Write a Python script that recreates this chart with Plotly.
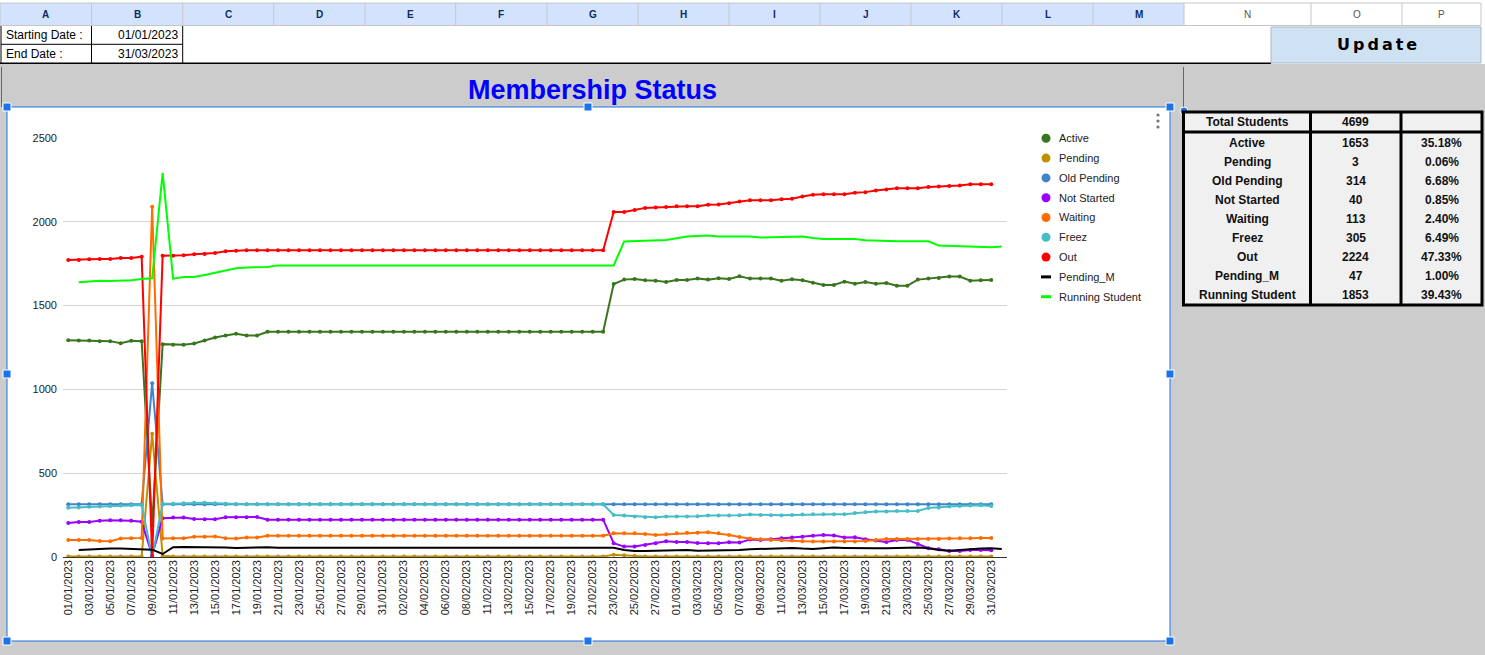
import plotly.graph_objects as go

W, H = 1485, 655

# ---------------- data ----------------
dates = [
    "01/01/2023", "02/01/2023", "03/01/2023", "04/01/2023", "05/01/2023", "06/01/2023", "07/01/2023", "08/01/2023",
    "09/01/2023", "10/01/2023", "11/01/2023", "12/01/2023", "13/01/2023", "14/01/2023", "15/01/2023", "16/01/2023",
    "17/01/2023", "18/01/2023", "19/01/2023", "20/01/2023", "21/01/2023", "22/01/2023", "23/01/2023", "24/01/2023",
    "25/01/2023", "26/01/2023", "27/01/2023", "28/01/2023", "29/01/2023", "30/01/2023", "31/01/2023",
    "01/02/2023", "02/02/2023", "03/02/2023", "04/02/2023", "05/02/2023", "06/02/2023", "07/02/2023", "08/02/2023",
    "09/02/2023", "11/02/2023", "12/02/2023", "13/02/2023", "14/02/2023", "15/02/2023", "16/02/2023", "17/02/2023",
    "18/02/2023", "19/02/2023", "20/02/2023", "21/02/2023", "22/02/2023", "23/02/2023", "24/02/2023", "25/02/2023",
    "26/02/2023", "27/02/2023", "28/02/2023",
    "01/03/2023", "02/03/2023", "03/03/2023", "04/03/2023", "05/03/2023", "06/03/2023", "07/03/2023", "08/03/2023",
    "09/03/2023", "10/03/2023", "11/03/2023", "12/03/2023", "13/03/2023", "14/03/2023", "15/03/2023", "16/03/2023",
    "17/03/2023", "18/03/2023", "19/03/2023", "20/03/2023", "21/03/2023", "22/03/2023", "23/03/2023", "24/03/2023",
    "25/03/2023", "26/03/2023", "27/03/2023", "28/03/2023", "29/03/2023", "30/03/2023", "31/03/2023",
]

active = ([1294, 1292, 1292, 1288, 1288, 1276, 1290, 1288, 190,
           1270, 1266, 1266, 1274, 1292, 1310, 1322, 1332, 1322, 1322]
          + [1344] * 33
          + [1629, 1655, 1659, 1651, 1649, 1641, 1653, 1653, 1661, 1655, 1663, 1659, 1675, 1661, 1661, 1661,
             1649, 1657, 1651, 1637, 1623, 1623, 1643, 1631, 1641, 1631, 1635, 1619, 1619, 1655, 1661, 1665,
             1673, 1673, 1649, 1651, 1653])

pending = ([3] * 8 + [735, 8] + [3] * 42 + [14, 10, 8] + [3] * 34)

old_pending = ([314] * 8 + [1037] + [314] * 80)

not_started = ([203, 209, 209, 217, 219, 219, 217, 211, 10,
                231, 235, 235, 227, 225, 225, 237, 237, 237, 239]
               + [223] * 33
               + [82, 62, 62, 72, 82, 94, 90, 90, 84, 82, 82, 88, 86, 104,
                  102, 106, 112, 116, 121, 127, 131, 129, 116, 118, 106, 98, 90, 102, 102, 78, 52, 46, 36, 36,
                  42, 42, 40])

waiting = ([102, 102, 102, 96, 94, 110, 112, 114, 2090,
            110, 112, 112, 121, 121, 123, 112, 110, 117, 117]
           + [127] * 33
           + [141, 141, 141, 137, 131, 135, 141, 145, 145, 147, 141, 131, 119, 110,
              106, 102, 100, 98, 94, 92, 92, 92, 92, 92, 96, 102, 108, 108, 108, 108, 108, 108, 110, 112,
              112, 114, 113])

freez = ([294, 296, 300, 302, 305, 307, 309, 310, 0,
          317, 317, 320, 323, 323, 320, 317, 314, 314, 314]
         + [314] * 33
         + [251, 247, 241, 237, 237, 241, 241, 241, 243, 247, 247, 247, 249, 253,
            251, 249, 249, 251, 253, 255, 255, 255, 255, 263, 267, 271, 271, 275, 275, 275, 293, 295, 301,
            305, 307, 309, 305])

out = ([1772, 1772, 1776, 1778, 1778, 1784, 1784, 1792, 0,
        1798, 1798, 1800, 1806, 1808, 1814, 1824, 1828, 1830, 1830]
       + [1830] * 33
       + [2059, 2059, 2071, 2083, 2085, 2089, 2093, 2093, 2093, 2101, 2103, 2111, 2121, 2129, 2129, 2129,
          2135, 2137, 2151, 2161, 2165, 2165, 2165, 2173, 2177, 2187, 2192, 2200, 2200, 2200, 2208, 2210,
          2214, 2216, 2224, 2224, 2224])

pending_m = ([42, 46, 50, 50, 50, 48, 46, 44, 18,
              58, 60, 60, 58, 56, 56, 54, 56, 58, 58]
             + [55] * 33
             + [42, 36, 36, 38, 40, 42, 42, 38, 38, 38, 40, 42, 46,
                48, 48, 50, 54, 50, 48, 52, 56, 54, 52, 52, 52, 52, 54, 54, 56, 52, 42, 38, 40, 46, 50, 52, 47])

running = ([1639, 1645, 1649, 1647, 1647, 1651, 1659, 1663, 2292,
            1661, 1671, 1671, 1683, 1695, 1711, 1723, 1728, 1730, 1730]
           + [1740] * 33
           + [1882, 1884, 1888, 1890, 1892, 1902, 1912, 1916, 1918, 1912, 1912, 1910, 1912, 1906, 1908, 1908,
              1910, 1912, 1904, 1898, 1898, 1898, 1898, 1890, 1888, 1882, 1884, 1884, 1884, 1884, 1858, 1856,
              1854, 1856, 1850, 1848, 1853])

series_names = ["Active", "Pending", "Old Pending", "Not Started", "Waiting", "Freez", "Out",
                "Pending_M", "Running Student"]
series_values = [active, pending, old_pending, not_started, waiting, freez, out, pending_m, running]
series_colors = ["#38761d", "#bf9000", "#3d85c6", "#9900ff", "#ff6d01", "#46bdc6", "#ff0000",
                 "#000000", "#00ff00"]
series_markers = [True, True, True, True, True, True, True, False, False]
series_shift = [0, 0, 0, 0, 0, 0, 0, 1, 1]

y_ticks = [0, 500, 1000, 1500, 2000, 2500]

total_students = 4699
table_names = ["Active", "Pending", "Old Pending", "Not Started", "Waiting", "Freez", "Out",
               "Pending_M", "Running Student"]
table_counts = [1653, 3, 314, 40, 113, 305, 2224, 47, 1853]

columns = ["A", "B", "C", "D", "E", "F", "G", "H", "I", "J", "K", "L", "M", "N", "O", "P"]

# ---------------- helpers ----------------
FONT = "Arial, Liberation Sans, sans-serif"


def px(x):
    return x / W


def py(y):
    return 1 - y / H


shapes = []
annotations = []


def rect(x0, y0, x1, y1, fill=None, line=None, lw=1, layer="above"):
    shapes.append(dict(type="rect", xref="paper", yref="paper",
                       x0=px(x0), x1=px(x1), y0=py(y1), y1=py(y0),
                       fillcolor=fill if fill else "rgba(0,0,0,0)",
                       line=dict(color=line if line else "rgba(0,0,0,0)", width=lw if line else 0),
                       layer=layer))


def seg(x0, y0, x1, y1, color, lw=1, layer="above"):
    shapes.append(dict(type="line", xref="paper", yref="paper",
                       x0=px(x0), x1=px(x1), y0=py(y0), y1=py(y1),
                       line=dict(color=color, width=lw), layer=layer))


def circ(cx, cy, r, fill, line=None, lw=0):
    shapes.append(dict(type="circle", xref="paper", yref="paper",
                       x0=px(cx - r), x1=px(cx + r), y0=py(cy + r), y1=py(cy - r),
                       fillcolor=fill,
                       line=dict(color=line if line else fill, width=lw), layer="above"))


def text(x, y, s, size=12, color="#000", bold=False, xanchor="center", family=FONT):
    annotations.append(dict(xref="paper", yref="paper", x=px(x), y=py(y), text=s,
                            showarrow=False, xanchor=xanchor, yanchor="middle",
                            font=dict(family=family, size=size, color=color,
                                      weight="bold" if bold else "normal")))


# ---------------- spreadsheet decor ----------------
# top white area (rows 1-3)
rect(0, 0, W, 64, fill="#ffffff", layer="below")
# header row
edges = [0, 91.5, 182.7, 273.7, 365, 455.7, 547, 638, 729, 820, 911, 1002, 1093, 1184, 1311, 1402, 1481]
for i, c in enumerate(columns):
    x0, x1 = edges[i], edges[i + 1]
    sel = i < 13
    rect(x0, 3, x1, 25, fill="#d3e3fd" if sel else "#ffffff", layer="below")
    text((x0 + x1) / 2, 14.5, c, size=10, color="#0b2a66" if sel else "#555555", bold=sel)
for e in edges:
    seg(e, 3, e, 25, "#c4c7c5", 1)
seg(0, 3, 1481, 3, "#c4c7c5", 1)
seg(0, 25.5, 1481, 25.5, "#c4c7c5", 1)

# date cells
seg(1, 26, 1, 63, "#000000", 1)
seg(91.5, 26, 91.5, 63, "#000000", 1)
seg(182.7, 26, 182.7, 63, "#000000", 1)
seg(1, 44.3, 182.7, 44.3, "#000000", 1)
text(4, 35, "Starting Date :", size=12, color="#000", xanchor="left")
text(180, 35, dates[0], size=12, color="#000", xanchor="right")
text(4, 54, "End Date :", size=12, color="#000", xanchor="left")
text(180, 54, dates[-1], size=12, color="#000", xanchor="right")
seg(0, 63.3, 1271, 63.3, "#000000", 1.5)

# update button
rect(1271, 27, 1481, 63, fill="#cfe2f3", line="#a9b9c9", lw=1)
annotations.append(dict(xref="paper", yref="paper", x=px(1378), y=py(44),
                        text='<span style="letter-spacing:3px">Update</span>',
                        showarrow=False, xanchor="center", yanchor="middle",
                        font=dict(family="DejaVu Sans, Verdana, sans-serif", size=16, color="#000",
                                  weight="bold")))

# chart container (white) and title
rect(7, 107, 1170, 641, fill="#ffffff", layer="below")
text(592, 90, "Membership Status", size=27, color="#0000ff", bold=True)

# selection lines / handles
rect(7, 107, 1170, 641, line="#1a73e8", lw=1)
seg(1.5, 67, 1.5, 107, "#1a73e8", 1)
seg(1183.5, 67, 1183.5, 110, "#1a73e8", 1)
for hx, hy in [(7, 107), (588, 107), (1170, 107), (7, 374), (1170, 374), (7, 641), (588, 641), (1170, 641)]:
    rect(hx - 4, hy - 4, hx + 4, hy + 4, fill="#1a73e8", line="#ffffff", lw=1)
circ(1184, 111, 4, "#1a73e8", "#ffffff", 1)

# three-dot menu
for dy in [115, 121, 127]:
    circ(1158, dy, 1.6, "#757575")

# ---------------- legend ----------------
leg_y0, leg_step = 138.3, 19.8
for i, (nm, col, mk) in enumerate(zip(series_names, series_colors, series_markers)):
    yy = leg_y0 + i * leg_step
    if mk:
        circ(1046, yy, 4.5, col)
    else:
        seg(1041, yy, 1051, yy, col, 3)
    text(1056.5, yy, nm, size=11, color="#222222", xanchor="left")

# ---------------- summary table ----------------
tx0, tx1, tx2, tx3 = 1183.5, 1310.5, 1401, 1482
ty0, ty1, ty2 = 112, 132, 305
rect(tx0, ty0, tx3, ty2, fill="#f0f0f0", line="#000000", lw=3)
seg(tx1, ty0, tx1, ty2, "#000000", 3)
seg(tx2, ty0, tx2, ty2, "#000000", 3)
seg(tx0, ty1, tx3, ty1, "#000000", 3)
text((tx0 + tx1) / 2, 121.7, "Total Students", size=12, color="#111", bold=True)
text((tx1 + tx2) / 2, 121.7, str(total_students), size=12, color="#111", bold=True)
for i, (nm, cnt) in enumerate(zip(table_names, table_counts)):
    yy = 142.7 + i * 19
    text((tx0 + tx1) / 2, yy, nm, size=12, color="#111", bold=True)
    text((tx1 + tx2) / 2, yy, str(cnt), size=12, color="#111", bold=True)
    text((tx2 + tx3) / 2, yy, f"{cnt / total_students * 100:.2f}%", size=12, color="#111", bold=True)

# ---------------- traces ----------------
fig = go.Figure()
idx = list(range(len(dates)))
for nm, vals, col, mk, sh in zip(series_names, series_values, series_colors, series_markers, series_shift):
    fig.add_trace(go.Scatter(
        x=[i + sh for i in idx], y=vals, name=nm,
        mode="lines+markers" if mk else "lines",
        line=dict(color=col, width=2),
        marker=dict(color=col, size=4),
        showlegend=False,
    ))

fig.update_layout(
    width=W, height=H, autosize=False,
    margin=dict(l=0, r=0, t=0, b=0, pad=0),
    paper_bgcolor="#cccccc",
    plot_bgcolor="rgba(0,0,0,0)",
    shapes=shapes,
    annotations=annotations,
    showlegend=False,
    font=dict(family=FONT, color="#222222"),
    xaxis=dict(
        domain=[px(63), px(1007)],
        range=[-0.5, 89.5],
        tickmode="array",
        tickvals=idx[::2],
        ticktext=dates[::2],
        tickangle=-90,
        tickfont=dict(size=11, color="#222222"),
        showgrid=False, zeroline=False, showline=False, ticks="",
        automargin=False,
        fixedrange=True,
    ),
    yaxis=dict(
        domain=[py(557), py(138)],
        range=[0, 2500],
        tickmode="array",
        tickvals=y_ticks,
        ticktext=[str(v) for v in y_ticks],
        tickfont=dict(size=11, color="#222222"),
        showgrid=True, gridcolor="#d6d6d6", gridwidth=1,
        zeroline=True, zerolinecolor="#333333", zerolinewidth=1,
        showline=False, ticks="",
        ticklabelstandoff=5,
        automargin=False,
        fixedrange=True,
    ),
)

fig.write_html("out.html")
